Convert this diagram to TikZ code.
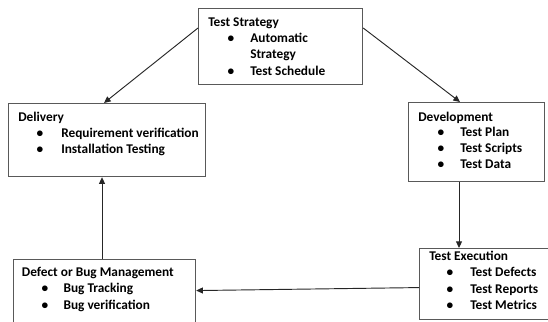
\documentclass[tikz,border=0pt]{standalone}
\usepackage{fontspec}
\setmainfont{Carlito}
\usetikzlibrary{arrows.meta,calc}
\tikzset{
  box/.style={draw=black!65, line width=0.9pt, rectangle, anchor=north west, inner sep=0pt},
  ttl/.style={anchor=base west, inner sep=0pt, font=\bfseries\fontsize{10}{12}\selectfont},
  itm/.style={anchor=base west, inner sep=0pt, font=\bfseries\fontsize{10}{12}\selectfont},
  dot/.style={anchor=base, inner sep=0pt, font=\bfseries\fontsize{10}{12}\selectfont},
  arr/.style={draw=black!85, line width=0.7pt, -{Triangle[length=5pt,width=4.5pt]}}
}
\begin{document}
\begin{tikzpicture}[x=0.75pt,y=-0.75pt]
\useasboundingbox (0,0) rectangle (548,321);
% boxes
\node[box, minimum width=123pt, minimum height=57pt] (strat) at (198,8) {};
\node[box, minimum width=147.75pt, minimum height=54.75pt] (deliv) at (8,103) {};
\node[box, minimum width=102pt, minimum height=59.25pt] (dev) at (408,102) {};
\node[box, minimum width=99.75pt, minimum height=53.25pt] (exec) at (419,248) {};
\node[box, minimum width=136.5pt, minimum height=53.25pt] (defect) at (13,259) {};
% Test Strategy
\node[ttl] (st0) at (208,26.5) {Test Strategy};
\node[dot] (sb1) at (231,43) {•};
\node[itm] (st1) at (250,43) {Automatic};
\node[itm] (st1b) at (250,59) {Strategy};
\node[dot] (sb2) at (231,75) {•};
\node[itm] (st2) at (250,75) {Test Schedule};
% Delivery
\node[ttl] (dl0) at (18,121) {Delivery};
\node[dot] (db1) at (40,137) {•};
\node[itm] (dl1) at (61,137) {Requirement verification};
\node[dot] (db2) at (40,153.3) {•};
\node[itm] (dl2) at (61,153.3) {Installation Testing};
% Development
\node[ttl] (dv0) at (418,121) {Development};
\node[dot] (vb1) at (441,136) {•};
\node[itm] (dv1) at (460,136) {Test Plan};
\node[dot] (vb2) at (441,152) {•};
\node[itm] (dv2) at (460,152) {Test Scripts};
\node[dot] (vb3) at (441,168) {•};
\node[itm] (dv3) at (460,168) {Test Data};
% Test Execution
\node[ttl] (ex0) at (429,260.3) {Test Execution};
\node[dot] (eb1) at (450,276.7) {•};
\node[itm] (ex1) at (470,276.7) {Test Defects};
\node[dot] (eb2) at (450,293.3) {•};
\node[itm] (ex2) at (470,293.3) {Test Reports};
\node[dot] (eb3) at (450,309.3) {•};
\node[itm] (ex3) at (470,309.3) {Test Metrics};
% Defect
\node[ttl] (df0) at (21.7,276) {Defect or Bug Management};
\node[dot] (fb1) at (45,292.7) {•};
\node[itm] (df1) at (63.3,292.7) {Bug Tracking};
\node[dot] (fb2) at (45,309.3) {•};
\node[itm] (df2) at (63.3,309.3) {Bug verification};
% connectors
\draw[arr] ([yshift=-15pt]strat.north west) -- ([xshift=72pt]deliv.north west);
\draw[arr] ([yshift=-15pt]strat.north east) -- ([xshift=39pt]dev.north west);
\draw[arr] ([xshift=38.25pt]dev.south west) -- ([xshift=38.25pt]dev.south west |- exec.north);
\draw[arr] ([yshift=-2.6pt]exec.west) -- ([yshift=3.4pt]defect.east);
\draw[arr] ([xshift=66.75pt]defect.north west) -- ([xshift=66.75pt]defect.north west |- deliv.south);
\end{tikzpicture}
\end{document}
